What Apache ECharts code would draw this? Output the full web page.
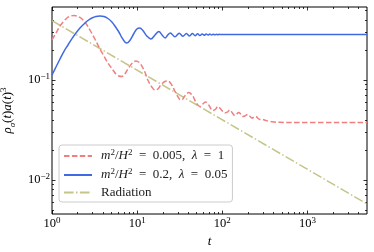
<!DOCTYPE html>
<html><head><meta charset="utf-8">
<script src="https://cdn.jsdelivr.net/npm/echarts@6/dist/echarts.min.js"></script>
<style>html,body{margin:0;padding:0;background:#fff}#c{width:374px;height:252px}</style>
</head><body><div id="c"></div>
<script>
// ---------- data ----------
const xRange = [1, 5000];
const yRange = [0.00457, 0.537];
const xMajorTicks = [1, 10, 100, 1000];
const xMinorTicks = [2,3,4,5,6,7,8,9,20,30,40,50,60,70,80,90,200,300,400,500,600,700,800,900,2000,3000,4000];
const yMajorTicks = [0.01, 0.1];
const yMinorTicks = [0.005,0.006,0.007,0.008,0.009,0.02,0.03,0.04,0.05,0.06,0.07,0.08,0.09,0.2,0.3,0.4,0.5];

const seriesNames = ['m²/H² = 0.005, λ = 1', 'm²/H² = 0.2, λ = 0.05', 'Radiation'];

const redData = [
  [1,0.2512],[1.114,0.2951],[1.241,0.3467],[1.383,0.389],[1.499,0.4169],[1.626,0.4335],
  [1.81,0.4416],[1.963,0.4365],[2.13,0.4217],[2.31,0.3981],[2.504,0.3673],[2.79,0.3162],
  [3.19,0.257],[3.654,0.2042],[4.07,0.1738],[4.535,0.148],[5.19,0.1259],[5.627,0.1148],
  [6.1,0.1096],[6.616,0.1084],[7.175,0.1148],[7.78,0.1288],[8.67,0.1462],[9.656,0.1549],
  [10.6,0.1496],[11.35,0.138],[12.31,0.1202],[13.35,0.1],[14.87,0.0851],[16.13,0.0794],
  [17.49,0.0813],[18.96,0.0891],[21.12,0.0966],[22.9,0.0977],[25.52,0.0891],[27.67,0.0776],
  [29.2,0.0708],[31.67,0.0638],[33.4,0.0631],[36.24,0.0692],[40.37,0.075],[44.98,0.0692],
  [48.8,0.0603],[54.33,0.0543],[58.9,0.0575],[63.9,0.0603],[69.3,0.0562],[77.2,0.0495],
  [83.7,0.0513],[88.3,0.0543],[95.7,0.0513],[106.7,0.0468],[115.7,0.0479],[122.2,0.0501],
  [128.9,0.0479],[139.8,0.0442],[147.5,0.0457],[155.7,0.0473],[164.3,0.0457],[173.5,0.0432],
  [183.1,0.0437],[198.6,0.0452],[209.6,0.0437],[221.2,0.0417],[233.4,0.0422],[246.4,0.0432],
  [260,0.0417],[274.5,0.0403],[297.6,0.0403],[322.8,0.0394],[359.5,0.0385],[411.5,0.038],
  [471,0.0377],[617,0.0376],[5000,0.0376]
];

const blueData = [
  [1,0.1122],[1.114,0.1349],[1.241,0.1622],[1.383,0.1936],[1.54,0.2239],[1.716,0.2594],
  [1.912,0.2951],[2.13,0.3311],[2.372,0.3631],[2.642,0.3936],[2.944,0.4169],[3.28,0.4315],
  [3.654,0.4365],[4.07,0.4315],[4.535,0.4121],[5.05,0.3802],[5.627,0.335],[6.1,0.302],
  [6.616,0.2655],[7.175,0.2399],[7.57,0.2344],[8.21,0.2483],[9.15,0.2917],[9.92,0.3236],
  [10.76,0.3311],[11.66,0.3126],[12.99,0.2754],[14.5,0.257],[16.2,0.2818],[18,0.3055],
  [19.6,0.2818],[21.3,0.263],[22.9,0.2818],[24.5,0.2951],[27.8,0.2704],[31.2,0.2938],
  [34.5,0.2735],[37.9,0.2924],[41.2,0.2754],[44.6,0.2911],[48,0.2773],[51.3,0.2897],
  [54.6,0.2786],[58,0.2891],[61.3,0.2799],[64.7,0.2884],[68,0.2812],[71.4,0.2877],
  [74.7,0.2825],[78,0.2871],[81.5,0.2831],[85,0.2865],[88.5,0.2838],[92,0.286],
  [95.5,0.2843],[99,0.2857],[105,0.285],[5000,0.2845]
];

const radiationData = [[1,0.392],[5000,0.00575]];

// ---------- styling ----------
const FONT = 'Liberation Serif';
const richBase = {
  b: {fontFamily: FONT, fontSize: 12.5, lineHeight: 16, color: '#000'},
  s: {fontFamily: FONT, fontSize: 9, lineHeight: 9, verticalAlign: 'top', color: '#000'}
};
function powLabel(v) {
  const e = Math.round(Math.log10(v));
  return '{b|10}{s|' + (e < 0 ? '\u2212' + (-e) : e) + '}';
}
function xAxisDef(pos, ticks, len, withLabel, withName) {
  return {
    type: 'log', logBase: 10, position: pos, min: xRange[0], max: xRange[1],
    axisLine: {show: false, onZero: false},
    splitLine: {show: false},
    axisTick: {show: true, inside: true, length: len, customValues: ticks, lineStyle: {color: '#000', width: 0.8}},
    axisLabel: withLabel ? {show: true, customValues: ticks, margin: 2, formatter: powLabel, rich: richBase} : {show: false},
    name: withName ? '{i|t}' : '',
    nameLocation: 'middle', nameGap: 17,
    nameTextStyle: {rich: {i: {fontFamily: FONT, fontStyle: 'italic', fontSize: 13, color: '#000'}}}
  };
}
function yAxisDef(pos, ticks, len, withLabel, withName) {
  return {
    type: 'log', logBase: 10, position: pos, min: yRange[0], max: yRange[1],
    axisLine: {show: false, onZero: false},
    splitLine: {show: false},
    axisTick: {show: true, inside: true, length: len, customValues: ticks, lineStyle: {color: '#000', width: 0.8}},
    axisLabel: withLabel ? {show: true, customValues: ticks, margin: 2, formatter: powLabel, rich: richBase} : {show: false},
    name: withName ? '{i|ρ}{sb|σ}{r|(}{i|t}{r|)}{i|a}{r|(}{i|t}{r|)}{sp|3}' : '',
    nameLocation: 'middle', nameGap: 33, nameRotate: 90,
    nameTextStyle: {rich: {
      i: {fontFamily: FONT, fontStyle: 'italic', fontSize: 13, lineHeight: 18, color: '#000'},
      r: {fontFamily: FONT, fontSize: 13, lineHeight: 18, color: '#000'},
      sb: {fontFamily: FONT, fontStyle: 'italic', fontSize: 9, lineHeight: 10, verticalAlign: 'bottom', color: '#000'},
      sp: {fontFamily: FONT, fontSize: 9, lineHeight: 10, verticalAlign: 'top', color: '#000'}
    }}
  };
}

const legendRich = {};
legendRich[seriesNames[0]] = '{i|m}{s|2}{r|/}{i|H}{s|2}{r|  =  0.005,  }{i|λ}{r|  =  1}';
legendRich[seriesNames[1]] = '{i|m}{s|2}{r|/}{i|H}{s|2}{r|  =  0.2,  }{i|λ}{r|  =  0.05}';
legendRich[seriesNames[2]] = '{r|Radiation}';

const chart = echarts.init(document.getElementById('c'), null, {renderer: 'canvas'});
chart.setOption({
  animation: false,
  backgroundColor: '#fff',
  grid: {left: 52, right: 7, top: 7, bottom: 38, show: true, borderColor: '#000', borderWidth: 1,
         backgroundColor: 'transparent', containLabel: false, outerBoundsMode: 'none'},
  xAxis: [
    xAxisDef('bottom', xMajorTicks, 3.5, true, true),
    xAxisDef('bottom', xMinorTicks, 2, false, false),
    xAxisDef('top', xMajorTicks, 3.5, false, false),
    xAxisDef('top', xMinorTicks, 2, false, false)
  ],
  yAxis: [
    yAxisDef('left', yMajorTicks, 3.5, true, true),
    yAxisDef('left', yMinorTicks, 2, false, false),
    yAxisDef('right', yMajorTicks, 3.5, false, false),
    yAxisDef('right', yMinorTicks, 2, false, false)
  ],
  legend: {
    orient: 'vertical', left: 59, top: 145,
    padding: [3, 5, 3, 4], itemGap: 4.5, itemWidth: 28, itemHeight: 14,
    backgroundColor: 'rgba(255,255,255,0.85)', borderColor: '#cccccc', borderWidth: 1, borderRadius: 3,
    itemStyle: {opacity: 0, borderWidth: 0},
    data: seriesNames,
    formatter: function (n) { return legendRich[n]; },
    textStyle: {
      padding: [0, 0, 0, 4],
      rich: {
        i: {fontFamily: FONT, fontStyle: 'italic', fontSize: 13, lineHeight: 16, color: '#222'},
        r: {fontFamily: FONT, fontSize: 13, lineHeight: 16, color: '#222'},
        s: {fontFamily: FONT, fontSize: 9, lineHeight: 9, verticalAlign: 'top', color: '#222'}
      }
    }
  },
  series: [
    {name: seriesNames[0], type: 'line', data: redData, symbol: 'none', smooth: 0.35,
     lineStyle: {color: '#f08080', width: 1.5, type: [5.5, 2.4]}, itemStyle: {color: '#f08080'}, z: 3},
    {name: seriesNames[1], type: 'line', data: blueData, symbol: 'none', smooth: 0.35,
     lineStyle: {color: '#4169e1', width: 1.5}, itemStyle: {color: '#4169e1'}, z: 4},
    {name: seriesNames[2], type: 'line', data: radiationData, symbol: 'none',
     lineStyle: {color: '#c5c58a', width: 1.5, type: [9.6, 2.4, 1.5, 2.4]}, itemStyle: {color: '#c5c58a'}, z: 2}
  ]
});
</script>
</body></html>
